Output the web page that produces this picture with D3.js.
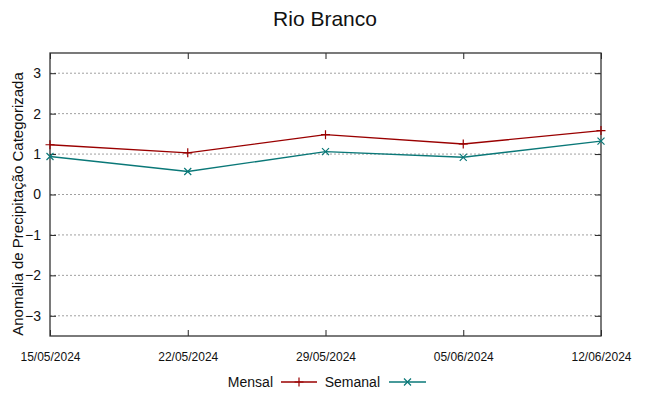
<!DOCTYPE html>
<html>
<head>
<meta charset="utf-8">
<script src="https://cdn.jsdelivr.net/npm/d3@7"></script>
<style>
  body { margin: 0; background: #fff; }
  svg text { font-family: "Liberation Sans", Arial, sans-serif; fill: #111; }
</style>
</head>
<body>
<svg id="chart" width="649" height="396"></svg>
<script>
// data
const dates = ['15/05/2024', '22/05/2024', '29/05/2024', '05/06/2024', '12/06/2024'];
const mensal = [1.23, 1.03, 1.48, 1.25, 1.58];
const semanal = [0.94, 0.57, 1.06, 0.92, 1.32];
const yTicks = [-3, -2, -1, 0, 1, 2, 3];

const svg = d3.select('#chart');
const margin = {top: 53, right: 48, bottom: 60, left: 50};
const w = 649 - margin.left - margin.right;
const h = 396 - margin.top - margin.bottom;

const x = d3.scalePoint().domain(dates).range([0, w]);
const y = d3.scaleLinear().domain([-3.5, 3.5]).range([h, 0]);

const g = svg.append('g').attr('transform', `translate(${margin.left},${margin.top})`);

//horizontal grid
g.selectAll('.grid').data(yTicks).enter().append('line')
  .attr('x1', 0).attr('x2', w)
  .attr('y1', d => y(d)).attr('y2', d => y(d))
  .attr('stroke', '#a0a0a0').attr('stroke-width', 1).attr('stroke-dasharray', '2,2');

//axes with inward ticks
const yL = g.append('g').call(d3.axisLeft(y).tickValues(yTicks).tickFormat(d3.format('d')).tickSize(-6).tickPadding(9));
const yR = g.append('g').attr('transform', `translate(${w},0)`).call(d3.axisRight(y).tickValues(yTicks).tickSize(-6).tickFormat(''));
const xB = g.append('g').attr('transform', `translate(0,${h})`).call(d3.axisBottom(x).tickSize(-6).tickPadding(16));
const xT = g.append('g').call(d3.axisTop(x).tickSize(-6).tickFormat(''));
[yL, yR, xB, xT].forEach(a => {
  a.select('.domain').remove();
  a.selectAll('line').attr('stroke', '#222');
});
yL.selectAll('text').style('font-size', '14px').attr('fill', '#111');
xB.selectAll('text').style('font-size', '12px').attr('fill', '#111');

//border
g.append('rect').attr('x', 0).attr('y', 0).attr('width', w).attr('height', h)
  .attr('fill', 'none').attr('stroke', '#333').attr('stroke-width', 1.3);

const series = [
  {name: 'Mensal', values: mensal, color: '#9a0000', mark: 'plus'},
  {name: 'Semanal', values: semanal, color: '#0a7878', mark: 'cross'}
];

const line = d3.line().x((d, i) => x(dates[i])).y(d => y(d));

function marker(sel, type, cx, cy, color) {
  const s = type === 'plus' ? 4.5 : 3.5;
  if (type === 'plus') {
    sel.append('path').attr('d', `M${cx - s},${cy}H${cx + s}M${cx},${cy - s}V${cy + s}`)
      .attr('stroke', color).attr('stroke-width', 1.2).attr('fill', 'none');
  } else {
    sel.append('path').attr('d', `M${cx - s},${cy - s}L${cx + s},${cy + s}M${cx - s},${cy + s}L${cx + s},${cy - s}`)
      .attr('stroke', color).attr('stroke-width', 1.2).attr('fill', 'none');
  }
}

series.forEach(s => {
  g.append('path').datum(s.values).attr('d', line)
    .attr('fill', 'none').attr('stroke', s.color).attr('stroke-width', 1.4);
  s.values.forEach((v, i) => marker(g, s.mark, x(dates[i]), y(v), s.color));
});

//title
svg.append('text').attr('x', 325).attr('y', 26).attr('text-anchor', 'middle')
  .style('font-size', '21px').text('Rio Branco');

//y label
svg.append('text').attr('transform', 'translate(23,204) rotate(-90)').attr('text-anchor', 'middle')
  .style('font-size', '15px').text('Anomalia de Precipitação Categorizada');

//legend
const leg = [
  {textX: 273, lx1: 281, lx2: 317},
  {textX: 380, lx1: 389, lx2: 426}
];
const ly = 382;
series.forEach((s, i) => {
  svg.append('text').attr('x', leg[i].textX).attr('y', ly + 5).attr('text-anchor', 'end')
    .style('font-size', '14px').text(s.name);
  svg.append('line').attr('x1', leg[i].lx1).attr('x2', leg[i].lx2).attr('y1', ly).attr('y2', ly)
    .attr('stroke', s.color).attr('stroke-width', 1.4);
  marker(svg, s.mark, (leg[i].lx1 + leg[i].lx2) / 2, ly, s.color);
});
</script>
</body>
</html>
